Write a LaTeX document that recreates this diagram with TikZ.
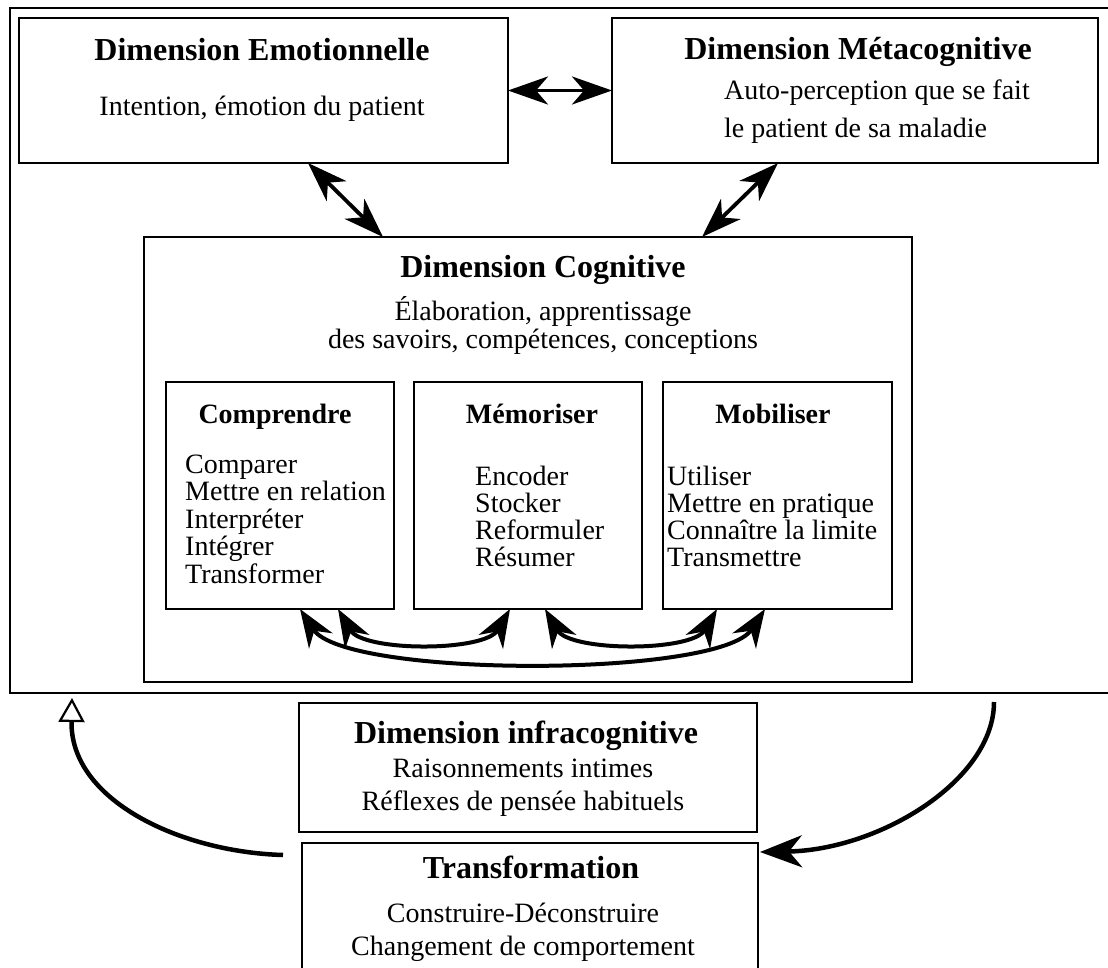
\documentclass[tikz,border=0pt]{standalone}
\usepackage{fontspec}
\setmainfont{Liberation Serif}
\usetikzlibrary{arrows.meta}

\tikzset{
  box/.style={draw, line width=1.8pt, anchor=north west, inner sep=0pt, outer sep=0pt},
  hd/.style={font=\fontsize{32}{36}\selectfont\bfseries, anchor=base, inner sep=0pt},
  sh/.style={font=\fontsize{28}{32}\selectfont\bfseries, anchor=base, inner sep=0pt},
  tx/.style={font=\fontsize{28}{32}\selectfont, anchor=base, inner sep=0pt},
  txl/.style={tx, anchor=base west},
  both/.style={line width=3.8pt, >={Stealth[length=40pt,width=28pt,inset=12pt]}, <->},
  loop/.style={line width=4pt, >={Stealth[length=38pt,width=28pt,inset=12pt]}, <->},
  ret/.style={line width=4.5pt, >={Triangle[open,length=24pt,width=26pt,line width=2.2pt]}, ->},
  feed/.style={line width=4.5pt, >={Stealth[length=42pt,width=32pt,inset=13pt]}, ->},
}

\begin{document}
\begin{tikzpicture}[x=1pt,y=-1pt]
\useasboundingbox (0,0) rectangle (1108,968);
\clip (0,0) rectangle (1108,968);

% outer frame around the upper dimensions
\node[box, minimum width=1120pt, minimum height=685pt] (outer) at (10,8) {};

% top boxes
\node[box, minimum width=489pt, minimum height=145pt] (emo) at (19,18) {};
\node[hd] (emoT) at (262,61) {Dimension Emotionnelle};
\node[tx] (emoB) at (262,116) {Intention, émotion du patient};

\node[box, minimum width=486pt, minimum height=145pt] (meta) at (612,18) {};
\node[hd] (metaT) at (858,60) {Dimension Métacognitive};
\node[txl] (metaB1) at (724,100) {Auto-perception que se fait};
\node[txl] (metaB2) at (724,138) {le patient de sa maladie};

% cognitive dimension
\node[box, minimum width=768pt, minimum height=445pt] (cog) at (144,237) {};
\node[hd] (cogT) at (543,277) {Dimension Cognitive};
\node[tx] (cogB1) at (543,320) {Élaboration, apprentissage};
\node[tx] (cogB2) at (543,348) {des savoirs, compétences, conceptions};

\node[box, minimum width=228pt, minimum height=227pt] (comp) at (166,382) {};
\node[box, minimum width=228pt, minimum height=227pt] (memo) at (414,382) {};
\node[box, minimum width=229pt, minimum height=227pt] (mobi) at (663,382) {};

\node[sh] (compT) at (275,423) {Comprendre};
\node[sh] (memoT) at (532,423) {Mémoriser};
\node[sh] (mobiT) at (773,423) {Mobiliser};

\foreach \t [count=\i] in {Comparer, Mettre en relation, Interpréter, Intégrer, Transformer}
  \node[txl] (comp\i) at (185,{445.5+27.5*\i}) {\t};
\foreach \t [count=\i] in {Encoder, Stocker, Reformuler, Résumer}
  \node[txl] (memo\i) at (475,{457.7+27.3*\i}) {\t};
\foreach \t [count=\i] in {Utiliser, Mettre en pratique, Connaître la limite, Transmettre}
  \node[txl] (mobi\i) at (667,{457.7+27.3*\i}) {\t};

% lower boxes
\node[box, minimum width=458pt, minimum height=129pt] (infra) at (299,703) {};
\node[hd] (infraT) at (526,743) {Dimension infracognitive};
\node[tx] (infraB1) at (523,777) {Raisonnements intimes};
\node[tx] (infraB2) at (523,810) {Réflexes de pensée habituels};

\node[box, minimum width=456pt, minimum height=200pt] (trans) at (302,843) {};
\node[hd] (transT) at (531,878) {Transformation};
\node[tx] (transB1) at (523,922) {Construire-Déconstruire};
\node[tx] (transB2) at (523,955) {Changement de comportement};

% links between the dimensions
\draw[both] (emo.east) -- (meta.west);
\draw[both] ([xshift=289pt]emo.south west) -- ([xshift=239pt]cog.north west);
\draw[both] ([xshift=166pt]meta.south west) -- ([xshift=558pt]cog.north west);

% links between the cognitive operations
\draw[loop] ([xshift=134pt]comp.south west) .. controls +(45,69) and +(-45,69) .. ([xshift=102pt]mobi.south west);
\draw[loop] ([xshift=172pt]comp.south west) .. controls +(25,43) and +(-25,43) .. ([xshift=96pt]memo.south west);
\draw[loop] ([xshift=131pt]memo.south west) .. controls +(25,43) and +(-25,43) .. ([xshift=54pt]mobi.south west);

% transformation cycle
\coordinate (retTail) at ([shift={(-19,12)}]trans.north west);
\coordinate (retTip) at ([shift={(62,5)}]outer.south west);
\coordinate (feedTail) at ([shift={(984,9)}]outer.south west);
\draw[ret] (retTail) .. controls (180,852) and (70,800) .. (retTip);
\draw[feed] (feedTail) .. controls (994,780) and (880,850) .. ([shift={(2,9)}]trans.north east);
\end{tikzpicture}
\end{document}
